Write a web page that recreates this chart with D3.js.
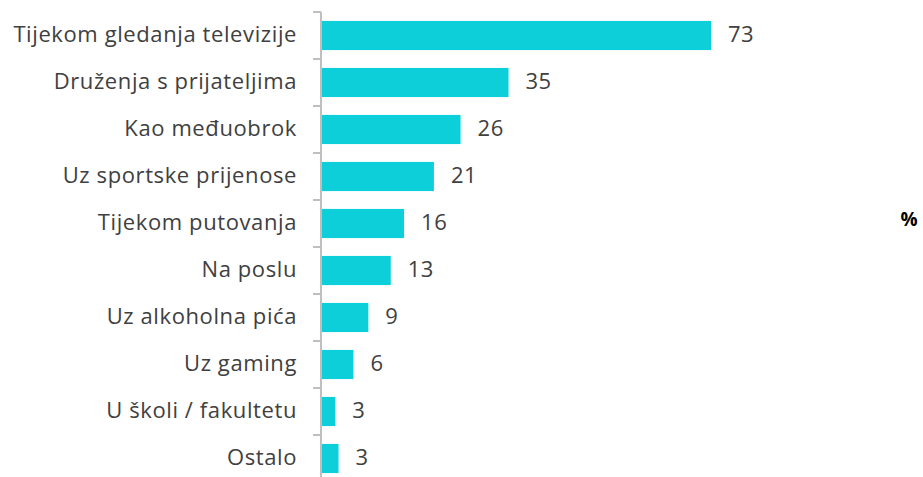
<!DOCTYPE html>
<html>
<head>
<meta charset="utf-8">
<script src="https://cdn.jsdelivr.net/npm/d3@7"></script>
<style>
  body { margin: 0; background: #fff; }
  text { font-family: "Open Sans", sans-serif; }
</style>
</head>
<body>
<div id="chart"></div>
<script>
const categories = [
  'Tijekom gledanja televizije',
  'Druženja s prijateljima',
  'Kao međuobrok',
  'Uz sportske prijenose',
  'Tijekom putovanja',
  'Na poslu',
  'Uz alkoholna pića',
  'Uz gaming',
  'U školi / fakultetu',
  'Ostalo'
];
// bar lengths, labels as printed
const values = [73, 35, 26, 21, 15.4, 12.9, 8.7, 5.9, 2.5, 3.1];
const labels = ['73', '35', '26', '21', '16', '13', '9', '6', '3', '3'];

const width = 923, height = 477;

const svg = d3.select('#chart').append('svg')
  .attr('width', width)
  .attr('height', height);

const x = d3.scaleLinear()
  .domain([0, 73])
  .range([322, 711]);

const y = d3.scaleBand()
  .domain(categories)
  .range([12, 482])
  .paddingInner(0.38)
  .paddingOuter(0.19);

const half = y.step() * y.paddingInner() / 2;

// axis line + ticks between categories
const axis = svg.append('g').attr('stroke', '#bfbfbf').attr('stroke-width', 2);
axis.append('line')
  .attr('x1', 321).attr('x2', 321)
  .attr('y1', 12).attr('y2', height);
axis.selectAll('line.tick')
  .data(categories)
  .join('line')
  .attr('class', 'tick')
  .attr('x1', 313).attr('x2', 321)
  .attr('y1', (d) => y(d) - half)
  .attr('y2', (d) => y(d) - half);

svg.append('g')
  .selectAll('rect')
  .data(categories)
  .join('rect')
  .attr('x', x(0))
  .attr('y', (d) => y(d))
  .attr('width', (d, i) => x(values[i]) - x(0))
  .attr('height', y.bandwidth())
  .attr('fill', '#0dcfd9');

svg.append('g')
  .selectAll('text')
  .data(categories)
  .join('text')
  .attr('x', 297)
  .attr('y', (d) => y(d) + y.bandwidth() / 2)
  .attr('dy', '0.3em')
  .attr('text-anchor', 'end')
  .attr('font-size', 22)
  .attr('letter-spacing', 0.6)
  .attr('fill', '#404040')
  .text((d) => d);

svg.append('g')
  .selectAll('text')
  .data(categories)
  .join('text')
  .attr('x', (d, i) => x(values[i]) + 17)
  .attr('y', (d) => y(d) + y.bandwidth() / 2)
  .attr('dy', '0.3em')
  .attr('font-size', 22)
  .attr('letter-spacing', 0.5)
  .attr('fill', '#404040')
  .text((d, i) => labels[i]);

svg.append('text')
  .attr('x', 909)
  .attr('y', 219)
  .attr('dy', '0.35em')
  .attr('text-anchor', 'middle')
  .attr('font-size', 19)
  .attr('font-weight', 'bold')
  .attr('fill', '#000')
  .text('%');
</script>
</body>
</html>
